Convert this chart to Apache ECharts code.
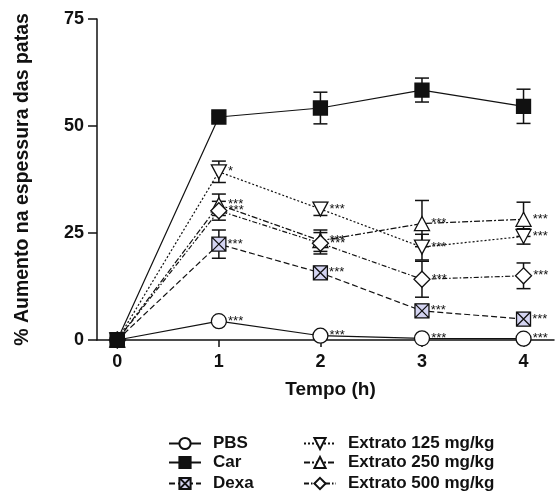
<!DOCTYPE html>
<html>
<head>
<meta charset="utf-8">
<script src="https://cdn.jsdelivr.net/npm/echarts@6/dist/echarts.min.js"></script>
<style>html,body{margin:0;padding:0;background:#fff;}#c{width:557px;height:491px;}</style>
</head>
<body>
<div id="c"></div>
<script>
var times = [0, 1, 2, 3, 4];
var xTicks = [0, 1, 2, 3, 4];
var yTicks = [0, 25, 50, 75];
var names = ['PBS', 'Car', 'Dexa', 'Extrato 125 mg/kg', 'Extrato 250 mg/kg', 'Extrato 500 mg/kg'];
var pbs = [0, 4.4, 1.0, 0.4, 0.3];
var pbsErr = [0, 0.5, 0.5, 0.3, 0.3];
var car = [0, 52.1, 54.2, 58.4, 54.6];
var carErr = [0, 0.8, 3.7, 2.8, 4.0];
var dexa = [0, 22.4, 15.7, 6.8, 4.9];
var dexaErr = [0, 3.3, 1.5, 1.5, 1.5];
var e125 = [0, 39.3, 30.6, 21.7, 24.2];
var e125Err = [0, 2.5, 1.5, 3.0, 1.8];
var e250 = [0, 31.6, 23.2, 27.2, 28.2];
var e250Err = [0, 2.5, 2.5, 5.4, 4.0];
var e500 = [0, 30.2, 22.6, 14.2, 15.0];
var e500Err = [0, 2.2, 2.5, 4.2, 3.0];
var sigPbs = ['', '***', '***', '***', '***'];
var sigCar = ['', '', '', '', ''];
var sigDexa = ['', '***', '***', '***', '***'];
var sig125 = ['', '*', '***', '***', '***'];
var sig250 = ['', '***', '***', '***', '***'];
var sig500 = ['', '***', '***', '***', '***'];

var FONT = 'Liberation Sans, Arial, sans-serif';
var INK = '#111';

var values = [pbs, car, dexa, e125, e250, e500];
var errs = [pbsErr, carErr, dexaErr, e125Err, e250Err, e500Err];
var sigs = [sigPbs, sigCar, sigDexa, sig125, sig250, sig500];
var symbols = ['circle', 'rect', 'path://M0,0H10V10H0Z M0,0L10,10 M10,0L0,10', 'path://M0,0L10,0L5,9Z', 'triangle', 'diamond'];
var fills = ['#fff', INK, '#d4d4f2', '#fff', '#fff', '#fff'];
var sizes = [15, 14, 14, [15, 14], [15, 14], 16];
var dashes = ['solid', 'solid', [6, 3], [2, 2], [6, 2, 2, 2], [5, 2, 1.5, 2]];

var series = [];
values.forEach(function (vals, i) {
  series.push({
    type: 'custom',
    silent: true,
    z: 1,
    clip: false,
    data: times.map(function (t, k) { return [t, vals[k], errs[i][k]]; }),
    renderItem: function (params, api) {
      var x = api.value(0), y = api.value(1), e = api.value(2);
      if (!e) return null;
      var top = api.coord([x, y + e]);
      var bot = api.coord([x, y - e]);
      var w = 7;
      var st = { stroke: INK, lineWidth: 1.5 };
      return {
        type: 'group',
        children: [
          { type: 'line', shape: { x1: top[0], y1: top[1], x2: bot[0], y2: bot[1] }, style: st },
          { type: 'line', shape: { x1: top[0] - w, y1: top[1], x2: top[0] + w, y2: top[1] }, style: st },
          { type: 'line', shape: { x1: bot[0] - w, y1: bot[1], x2: bot[0] + w, y2: bot[1] }, style: st }
        ]
      };
    }
  });
});
values.forEach(function (vals, i) {
  series.push({
    type: 'line',
    name: names[i],
    z: 3 + (i === 1 ? 5 : 0),
    clip: false,
    symbol: symbols[i],
    symbolSize: sizes[i],
    showAllSymbol: true,
    data: times.map(function (t, k) { return [t, vals[k]]; }),
    lineStyle: { color: INK, width: 1.2, type: dashes[i] },
    itemStyle: { color: fills[i], borderColor: INK, borderWidth: 1.3 },
    label: {
      show: true,
      position: 'right',
      distance: 1,
      color: INK,
      fontFamily: FONT,
      fontSize: 13,
      formatter: function (p) { return sigs[i][p.dataIndex]; }
    },
    emphasis: { disabled: true },
    animation: false
  });
});

var legendLeft = [163, 163, 163, 298, 298, 298];
var legendTop = [430, 449, 470, 430, 449, 470];
var legends = names.map(function (n, i) {
  return {
    orient: 'vertical',
    left: legendLeft[i],
    top: legendTop[i],
    itemWidth: 32,
    itemHeight: 14,
    selectedMode: false,
    data: [n],
    textStyle: { fontFamily: FONT, fontWeight: 'bold', fontSize: 17, color: INK, padding: [0, 0, 0, 7] }
  };
});

var chart = echarts.init(document.getElementById('c'), null, { renderer: 'canvas' });
chart.setOption({
  backgroundColor: '#fff',
  animation: false,
  grid: { left: 97, top: 19, width: 457, height: 321, containLabel: false },
  legend: legends,
  xAxis: {
    type: 'value',
    min: -0.2,
    max: 4.3,
    name: 'Tempo (h)',
    nameLocation: 'middle',
    nameGap: 40,
    nameTextStyle: { fontFamily: FONT, fontWeight: 'bold', fontSize: 19, color: INK, padding: [0, 0, 0, 10] },
    axisLine: { onZero: false, lineStyle: { color: INK, width: 1.5 } },
    axisTick: { show: true, length: 7, lineStyle: { color: INK, width: 1.5 }, customValues: xTicks },
    axisLabel: { fontFamily: FONT, fontWeight: 'bold', fontSize: 18, color: INK, margin: 13, customValues: xTicks },
    splitLine: { show: false }
  },
  yAxis: {
    type: 'value',
    min: 0,
    max: 75,
    interval: 25,
    name: '% Aumento na espessura das patas',
    nameLocation: 'middle',
    nameGap: 64,
    nameTextStyle: { fontFamily: FONT, fontWeight: 'bold', fontSize: 19.5, color: INK },
    axisLine: { show: true, onZero: false, lineStyle: { color: INK, width: 1.5 } },
    axisTick: { show: true, length: 9, lineStyle: { color: INK, width: 1.5 } },
    axisLabel: { fontFamily: FONT, fontWeight: 'bold', fontSize: 18, color: INK, margin: 13 },
    splitLine: { show: false }
  },
  series: series
});
</script>
</body>
</html>
